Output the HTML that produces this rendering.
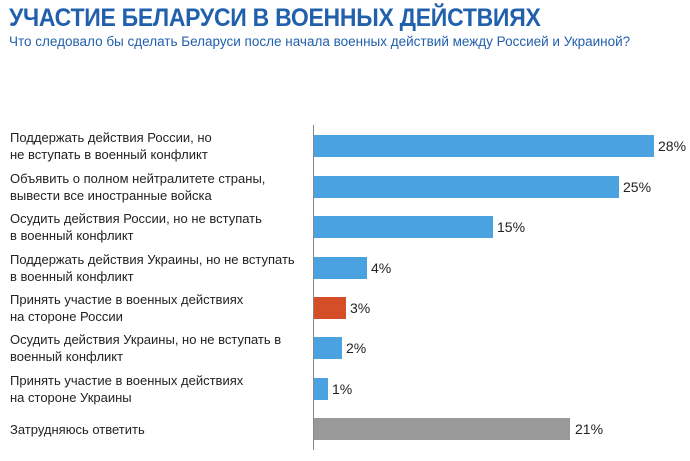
<!DOCTYPE html>
<html><head><meta charset="utf-8"><style>
body{margin:0;width:690px;height:461px;background:#fff;font-family:"Liberation Sans",sans-serif;position:relative;overflow:hidden}
.t{position:absolute;left:9px;top:4px;font-size:25px;font-weight:bold;color:#2160ad;letter-spacing:-0.3px;transform:scaleX(0.92);transform-origin:0 0;white-space:nowrap}
.s{position:absolute;left:9px;top:34px;font-size:13.5px;color:#2160ad;white-space:nowrap}
.l{position:absolute;left:10px;font-size:13px;line-height:17px;color:#222}
.b{position:absolute;left:314px;height:22px;background:#4aa3e0}
.v{position:absolute;font-size:14px;color:#222;line-height:22px}
.ax{position:absolute;left:313px;top:125px;width:1px;height:325px;background:#888}
</style></head><body>
<div class="t">УЧАСТИЕ БЕЛАРУСИ В ВОЕННЫХ ДЕЙСТВИЯХ</div>
<div class="s">Что следовало бы сделать Беларуси после начала военных действий между Россией и Украиной?</div>
<div class="ax"></div>

<div class="l" style="top:129px">Поддержать действия России, но<br>не вступать в военный конфликт</div>
<div class="b" style="top:135px;width:340px"></div><div class="v" style="top:135px;left:658px">28%</div>

<div class="l" style="top:170px">Объявить о полном нейтралитете страны,<br>вывести все иностранные войска</div>
<div class="b" style="top:176px;width:305px"></div><div class="v" style="top:176px;left:623px">25%</div>

<div class="l" style="top:210px">Осудить действия России, но не вступать<br>в военный конфликт</div>
<div class="b" style="top:216px;width:179px"></div><div class="v" style="top:216px;left:497px">15%</div>

<div class="l" style="top:251px">Поддержать действия Украины, но не вступать<br>в военный конфликт</div>
<div class="b" style="top:257px;width:53px"></div><div class="v" style="top:257px;left:371px">4%</div>

<div class="l" style="top:291px">Принять участие в военных действиях<br>на стороне России</div>
<div class="b" style="top:297px;width:32px;background:#d44e27"></div><div class="v" style="top:297px;left:350px">3%</div>

<div class="l" style="top:331px">Осудить действия Украины, но не вступать в<br>военный конфликт</div>
<div class="b" style="top:337px;width:28px"></div><div class="v" style="top:337px;left:346px">2%</div>

<div class="l" style="top:372px">Принять участие в военных действиях<br>на стороне Украины</div>
<div class="b" style="top:378px;width:14px"></div><div class="v" style="top:378px;left:332px">1%</div>

<div class="l" style="top:421px">Затрудняюсь ответить</div>
<div class="b" style="top:418px;width:256px;background:#999"></div><div class="v" style="top:418px;left:575px">21%</div>
</body></html>
